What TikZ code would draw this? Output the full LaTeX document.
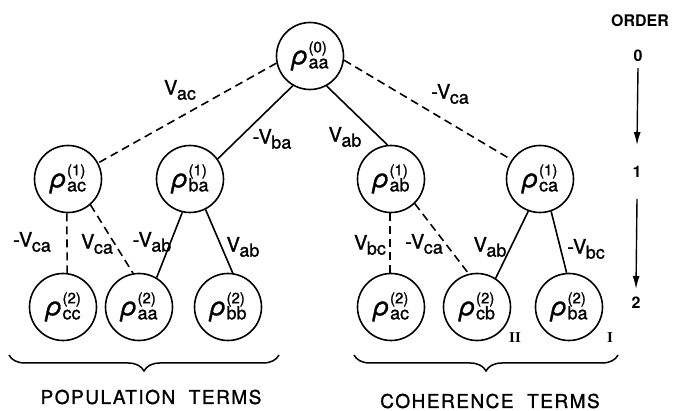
\documentclass[tikz,border=0pt]{standalone}
\usepackage{fontspec}
\setmainfont{TeX Gyre Heros}[UprightFeatures={FakeBold=1.2},ItalicFeatures={FakeBold=1.2}]
\newfontfamily\romfont{Liberation Serif}
\usetikzlibrary{arrows.meta,decorations.pathreplacing}
\newcommand{\rh}[2]{{\fontsize{26}{26}\selectfont\textit{ρ}}\kern0.5pt\rlap{\raisebox{12pt}{\fontsize{15}{15}\selectfont #1}}\raisebox{-4pt}{\fontsize{18}{18}\selectfont #2}}
\newcommand{\vv}[2]{#1V\kern-0.5pt\raisebox{-5pt}{\fontsize{18}{18}\selectfont #2}}
\tikzset{
  rnode/.style={circle,draw,line width=1.6pt,minimum size=67pt,inner sep=0pt,font=\fontsize{20}{24}\selectfont},
  conn/.style={line width=1.6pt},
  dconn/.style={line width=1.6pt,dash pattern=on 8pt off 5pt},
  lab/.style={font=\fontsize{20}{24}\selectfont,inner sep=0pt},
  ordlab/.style={font=\fontsize{16}{18}\selectfont\bfseries,inner sep=0pt},
  brc/.style={line width=1.5pt,decorate,decoration={brace,mirror,amplitude=16pt}},
  ordarrow/.style={line width=1.4pt,-{Latex[length=13pt,width=7pt]}}
}
\begin{document}
\begin{tikzpicture}[x=1pt,y=-1pt]
\useasboundingbox (0,0) rectangle (675,411);
% nodes
\node[rnode] (root) at (310,56) {\rh{(0)}{aa}};
\node[rnode] (ac1) at (68,179) {\rh{(1)}{ac}};
\node[rnode] (ba1) at (190,179) {\rh{(1)}{ba}};
\node[rnode] (ab1) at (391,179) {\rh{(1)}{ab}};
\node[rnode] (ca1) at (540,179) {\rh{(1)}{ca}};
\node[rnode] (cc2) at (63,307) {\rh{(2)}{cc}};
\node[rnode] (aa2) at (139,307) {\rh{(2)}{aa}};
\node[rnode] (bb2) at (228,307) {\rh{(2)}{bb}};
\node[rnode] (ac2) at (391,307) {\rh{(2)}{ac}};
\node[rnode] (cb2) at (477,307) {\rh{(2)}{cb}};
\node[rnode] (ba2) at (569,307) {\rh{(2)}{ba}};
% connectors
\draw[dconn] (root.192) -- (ac1.28);
\draw[conn] (root.-120) -- (ba1.36);
\draw[conn] (root.-61) -- (ab1.96);
\draw[dconn] (root.-7) -- (ca1.146);
\draw[dconn] (ac1.-92) -- (cc2.83);
\draw[dconn] (ac1.-49) -- (aa2.100);
\draw[conn] (ba1.-103) -- (aa2.59);
\draw[conn] (ba1.-63) -- (bb2.82);
\draw[dconn] (ab1.-92) -- (ac2.92);
\draw[dconn] (ab1.-46) -- (cb2.104);
\draw[conn] (ca1.-110) -- (cb2.57);
\draw[conn] (ca1.-71) -- (ba2.94);
% connector labels
\node[lab] (l1) at (180,90) {\vv{}{ac}};
\node[lab] (l2) at (272,139) {\vv{-}{ba}};
\node[lab] (l3) at (345,137) {\vv{}{ab}};
\node[lab] (l4) at (450,94) {\vv{-}{ca}};
\node[lab] (l5) at (32,242) {\vv{-}{ca}};
\node[lab] (l6) at (97,244) {\vv{}{ca}};
\node[lab] (l7) at (152,242) {\vv{-}{ab}};
\node[lab] (l8) at (243,247) {\vv{}{ab}};
\node[lab] (l9) at (370,245) {\vv{}{bc}};
\node[lab] (l10) at (424,244) {\vv{-}{ca}};
\node[lab] (l11) at (490,247) {\vv{}{ab}};
\node[lab] (l12) at (586,249) {\vv{-}{bc}};
% roman numerals
\node[font=\fontsize{15}{15}\selectfont\romfont\bfseries,inner sep=0pt] (n2) at (515,338) {II};
\node[font=\fontsize{15}{15}\selectfont\romfont\bfseries,inner sep=0pt] (n1) at (610,338) {I};
% order axis
\node[ordlab] (ord) at (640,21) {ORDER};
\node[ordlab] (o0) at (638,56) {0};
\node[ordlab] (o1) at (637,172) {1};
\node[ordlab] (o2) at (636,303) {2};
\draw[ordarrow] ([yshift=-6pt]o0.south) -- ([yshift=21pt]o1.north);
\draw[ordarrow] ([yshift=-21pt]o1.south) -- ([yshift=8pt]o2.north);
% braces
\coordinate (b1s) at (9,355);
\coordinate (b1e) at (279,355);
\coordinate (b2s) at (354,355);
\coordinate (b2e) at (618,355);
\draw[brc] (b1s) -- (b1e);
\draw[brc] (b2s) -- (b2e);
\node[font=\fontsize{19}{20}\selectfont\addfontfeature{LetterSpace=8},inner sep=0pt] (pop) at (151,397) {POPULATION\ \ TERMS};
\node[font=\fontsize{19}{20}\selectfont\addfontfeature{LetterSpace=8},inner sep=0pt] (coh) at (490,401) {COHERENCE\ \ TERMS};
\end{tikzpicture}
\end{document}
